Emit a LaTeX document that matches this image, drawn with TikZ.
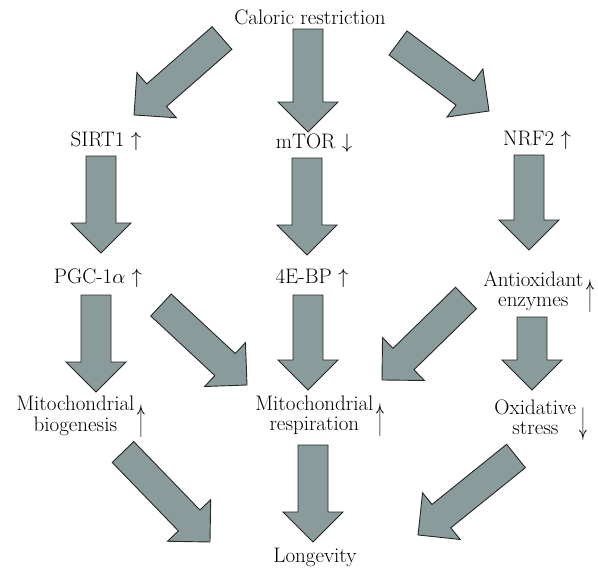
\documentclass[tikz,border=0pt]{standalone}
\usepackage{amsmath}
\usepackage{graphicx}
\usetikzlibrary{calc}
\definecolor{arrowgray}{RGB}{137,155,155}
\tikzset{lbl/.style={inner sep=1pt, font=\fontsize{21}{20}\selectfont},
         blockarrow/.style={fill=arrowgray, draw=black!85, line width=0.9pt, line join=miter}}
% block arrow from tail #1 to tip #2
\newcommand{\fatarrow}[2]{%
  \draw[blockarrow] let \p1=($(#2)-(#1)$), \n1={atan2(\y1,\x1)}, \n2={veclen(\x1,\y1)} in
    [shift={(#1)}, rotate=\n1] (0,15) -- ({\n2-30},15) -- ({\n2-30},30) -- (\n2,0)
    -- ({\n2-30},-30) -- ({\n2-30},-15) -- (0,-15) -- cycle;}
% two lines of text with a tall arrow beside them
\newcommand{\twoline}[3]{\begin{tabular}{@{}c@{}}#1\\#2\end{tabular}\,\raisebox{-0.4em}{\scalebox{0.75}[1.8]{$#3$}}}

\begin{document}
\begin{tikzpicture}[x=1pt,y=-1pt]
\useasboundingbox (0,0) rectangle (598,571);

% labels
\node[lbl] (cr) at (310,17) {Caloric restriction};
\node[lbl] (sirt) at (106,141) {SIRT1 $\uparrow$};
\node[lbl] (mtor) at (314,143) {mTOR $\downarrow$};
\node[lbl] (nrf) at (537,140) {NRF2 $\uparrow$};
\node[lbl] (pgc) at (98,278) {PGC-1$\alpha$ $\uparrow$};
\node[lbl] (ebp) at (312,278) {4E-BP $\uparrow$};
\node[lbl] (antiox) at (539,292) {\twoline{Antioxidant}{enzymes}{\uparrow}};
\node[lbl] (biog) at (81,417) {\twoline{Mitochondrial}{biogenesis}{\uparrow}};
\node[lbl] (resp) at (320,416) {\twoline{Mitochondrial}{respiration}{\uparrow}};
\node[lbl] (oxid) at (541,420) {\twoline{Oxidative}{stress}{\downarrow}};
\node[lbl] (lon) at (315,557) {Longevity};

% arrow ends
\coordinate (cr-s) at (222,38);   \coordinate (sirt-n) at (134,115);
\coordinate (cr-m) at (308,29);   \coordinate (mtor-n) at (308,132);
\coordinate (cr-e) at (398,43);   \coordinate (nrf-n) at (489,111);
\coordinate (sirt-s) at (101,156); \coordinate (pgc-n) at (101,253);
\coordinate (mtor-s) at (307,158); \coordinate (ebp-n) at (307,255);
\coordinate (nrf-s) at (529,155);  \coordinate (antiox-n) at (529,250);
\coordinate (pgc-s) at (96,295);   \coordinate (biog-n) at (96,392);
\coordinate (pgc-e) at (161,305);  \coordinate (resp-w) at (247,385);
\coordinate (ebp-s) at (308,295);  \coordinate (resp-n) at (308,390);
\coordinate (antiox-w) at (466,298); \coordinate (resp-e) at (382,380);
\coordinate (antiox-s) at (532,317); \coordinate (oxid-n) at (532,390);
\coordinate (biog-s) at (123,452); \coordinate (lon-w) at (210,542);
\coordinate (resp-s) at (313,445); \coordinate (lon-n) at (313,542);
\coordinate (oxid-s) at (516,456); \coordinate (lon-e) at (418,535);

% arrows
\fatarrow{cr-s}{sirt-n}
\fatarrow{cr-m}{mtor-n}
\fatarrow{cr-e}{nrf-n}
\fatarrow{sirt-s}{pgc-n}
\fatarrow{mtor-s}{ebp-n}
\fatarrow{nrf-s}{antiox-n}
\fatarrow{pgc-s}{biog-n}
\fatarrow{pgc-e}{resp-w}
\fatarrow{ebp-s}{resp-n}
\fatarrow{antiox-w}{resp-e}
\fatarrow{antiox-s}{oxid-n}
\fatarrow{biog-s}{lon-w}
\fatarrow{resp-s}{lon-n}
\fatarrow{oxid-s}{lon-e}
\end{tikzpicture}
\end{document}
